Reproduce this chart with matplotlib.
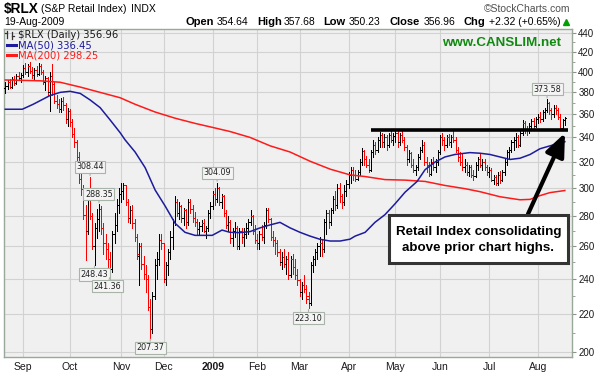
import numpy as np
import pandas as pd
import matplotlib
matplotlib.use("Agg")
import matplotlib.pyplot as plt
from matplotlib.collections import LineCollection
from matplotlib.lines import Line2D
from matplotlib.patches import Rectangle
from matplotlib.ticker import NullFormatter
from matplotlib import font_manager

plt.rcParams['font.family'] = ['Liberation Sans', 'DejaVu Sans']

# ---------------- data ----------------
start_date = "2008-08-20"
end_date = "2009-08-19"
holidays = ['2008-09-01', '2008-11-27', '2008-12-25', '2009-01-01', '2009-01-19',
            '2009-02-16', '2009-04-10', '2009-05-25', '2009-07-03']

opens = [
    384, 386, 390, 385, 393, 389, 396, 394, 397, 404,
    400, 406, 401, 397, 402, 398, 406, 400, 390, 394,
    380, 396, 388, 372, 369, 365, 372, 368, 356, 363,
    353, 343, 336, 324, 307, 299, 281, 270, 298, 280,
    260, 272, 278, 285, 272, 262, 258, 252, 246, 268,
    274, 288, 296, 298, 302, 290, 279, 284, 275, 266,
    254, 260, 249, 243, 240, 224, 212, 230, 248, 252,
    264, 262, 240, 248, 256, 266, 276, 290, 282, 287,
    279, 284, 276, 290, 285, 279, 276, 271, 273, 275,
    270, 272, 282, 287, 296, 292, 300, 290, 294, 282,
    274, 276, 265, 270, 272, 260, 270, 266, 268, 272,
    276, 280, 270, 264, 262, 268, 266, 274, 284, 278,
    266, 264, 262, 256, 250, 253, 249, 252, 242, 252,
    247, 242, 239, 232, 236, 234, 230, 226, 248, 252,
    256, 260, 262, 258, 276, 282, 276, 284, 292, 288,
    300, 294, 290, 298, 303, 310, 314, 310, 307, 312,
    320, 329, 322, 318, 314, 328, 334, 330, 338, 342,
    336, 340, 334, 342, 338, 341, 344, 336, 342, 338,
    332, 322, 327, 318, 314, 316, 324, 330, 334, 320,
    318, 311, 320, 316, 320, 328, 340, 338, 334, 340,
    336, 340, 338, 330, 324, 320, 316, 318, 312, 316,
    310, 309, 318, 322, 318, 320, 316, 312, 314, 306,
    308, 304, 310, 306, 312, 320, 328, 330, 336, 338,
    340, 334, 344, 352, 347, 346, 350, 354, 350, 356,
    358, 356, 362, 364, 370, 364, 360, 366, 364, 358,
    348, 354.64]

highs = [
    390, 392, 393, 395, 396, 398, 400, 399, 407, 409,
    408, 410, 405, 404, 406, 409, 408, 402, 396, 395,
    400, 408, 390, 378, 374, 375, 376, 370, 366, 365,
    356, 348, 338, 328, 314, 302, 288, 300, 308.44, 282,
    275, 285, 288.35, 287, 275, 268, 262, 256, 270, 282,
    292, 300, 304, 304, 302, 292, 287, 288, 278, 268,
    262, 262, 254, 248, 242, 228, 232, 252, 256, 268,
    268, 262, 250, 258, 270, 278, 294, 292, 290, 288,
    286, 285, 292, 292, 288, 283, 278, 276, 277, 278,
    273, 284, 290, 298, 300, 304.09, 301, 296, 295, 284,
    280, 277, 272, 276, 273, 272, 272, 272, 275, 278,
    284, 281, 274, 268, 270, 274, 276, 286, 286, 279,
    270, 266, 264, 258, 256, 258, 254, 256, 254, 255,
    252, 246, 240, 238, 242, 236, 232, 250, 254, 258,
    262, 266, 264, 278, 284, 284, 286, 294, 298, 303,
    304, 296, 302, 306, 312, 316, 316, 314, 314, 322,
    331, 330, 325, 322, 330, 338, 336, 340, 345, 344,
    343, 342, 344, 346, 344, 346, 346, 344, 346, 340,
    334, 330, 328, 322, 318, 326, 332, 338, 336, 324,
    320, 322, 324, 322, 330, 342, 344, 340, 342, 343,
    342, 346, 340, 332, 328, 326, 322, 320, 318, 318,
    314, 320, 324, 326, 322, 322, 318, 316, 315, 310,
    310, 312, 313, 314, 322, 330, 332, 338, 340, 344,
    342, 346, 355, 354, 350, 352, 356, 357, 358, 360,
    362, 364, 366, 373.58, 371, 366, 368, 368, 366, 360,
    356, 357.68]

lows = [
    379, 383, 384, 384, 387, 388, 392, 390, 395, 398,
    396, 399, 394, 393, 396, 397, 398, 388, 382, 378,
    363, 378, 370, 366, 362, 362, 364, 352, 350, 350,
    340, 332, 318, 304, 295, 278, 251, 268, 278, 258,
    248.43, 265, 270, 268, 255, 252, 246, 241.36, 244, 262,
    270, 282, 290, 292, 288, 276, 275, 272, 263, 252,
    236, 246, 240, 232, 222, 207.37, 210, 228, 240, 248,
    258, 238, 236, 242, 252, 258, 274, 280, 278, 276,
    274, 272, 274, 282, 276, 273, 268, 267, 270, 269,
    265, 270, 279, 285, 288, 290, 288, 286, 280, 272,
    270, 262, 260, 266, 258, 258, 262, 260, 265, 268,
    274, 268, 262, 258, 258, 264, 262, 272, 276, 264,
    260, 255, 254, 248, 246, 247, 243, 240, 241, 243,
    240, 236, 230, 228, 232, 226, 223.10, 225, 244, 248,
    252, 254, 254, 256, 268, 272, 274, 282, 284, 286,
    290, 286, 288, 294, 300, 304, 306, 305, 306, 310,
    318, 318, 316, 312, 313, 324, 326, 328, 332, 332,
    332, 330, 332, 336, 334, 336, 332, 334, 336, 330,
    318, 320, 316, 312, 310, 314, 322, 328, 318, 312,
    309, 310, 314, 312, 318, 326, 334, 330, 332, 334,
    332, 336, 328, 321, 318, 314, 312, 310, 309, 308,
    306, 308, 314, 316, 314, 314, 310, 308, 305, 303,
    302, 302, 304, 305, 310, 318, 322, 328, 330, 332,
    332, 333, 342, 344, 342, 344, 346, 348, 349, 352,
    353, 354, 357, 362, 360, 356, 358, 360, 356, 346,
    347, 350.23]

closes = [
    386, 390, 385, 393, 389, 396, 394, 397, 404, 400,
    406, 401, 397, 402, 398, 406, 400, 390, 394, 380,
    396, 388, 372, 369, 365, 372, 368, 356, 363, 353,
    343, 336, 324, 307, 299, 281, 270, 298, 280, 260,
    272, 278, 285, 272, 262, 258, 252, 246, 268, 274,
    288, 296, 298, 302, 290, 279, 284, 275, 266, 255,
    260, 249, 243, 240, 224, 212, 230, 248, 252, 264,
    262, 240, 248, 256, 266, 276, 290, 282, 287, 279,
    284, 276, 290, 285, 279, 276, 271, 273, 275, 270,
    272, 282, 287, 296, 292, 300, 290, 294, 282, 274,
    276, 265, 270, 272, 260, 270, 266, 268, 272, 276,
    280, 270, 264, 262, 268, 266, 274, 284, 278, 266,
    264, 262, 256, 250, 253, 249, 252, 242, 252, 247,
    242, 239, 232, 236, 234, 228, 226, 248, 252, 256,
    260, 262, 258, 276, 282, 276, 284, 292, 288, 300,
    294, 290, 298, 303, 310, 314, 310, 307, 312, 320,
    329, 322, 318, 314, 328, 334, 330, 338, 342, 336,
    340, 334, 342, 338, 341, 344, 336, 342, 338, 332,
    322, 327, 318, 314, 316, 324, 330, 334, 320, 318,
    311, 320, 316, 320, 328, 340, 338, 334, 340, 336,
    340, 338, 330, 324, 320, 316, 318, 312, 316, 310,
    309, 318, 322, 318, 320, 316, 312, 314, 306, 308,
    304, 310, 306, 312, 320, 328, 330, 336, 338, 340,
    334, 344, 352, 347, 346, 350, 354, 350, 356, 358,
    356, 362, 364, 370, 364, 360, 366, 364, 358, 348,
    354.64, 356.96]

# moving averages (trading-day index, value)
ma50_idx = [0, 7.6, 12.5, 20, 24.6, 29, 33.6, 38, 42.5, 47,
            51.5, 53.7, 58.2, 62.7, 67.2, 71.7, 76.2, 80.6, 85.1, 89.6,
            92.8, 97.2, 100.8, 105.3, 109.8, 114.3, 118.8, 123.2, 127.7, 132.2,
            136.7, 141.2, 145.7, 150.2, 154.6, 156.9, 161.4, 165.8, 170.3, 174.8,
            179.3, 184.7, 188.3, 192.8, 197.2, 201.7, 208.4, 212.9, 217.4, 221.9,
            226.4, 230.9, 235.4, 239.8, 244.3, 251]
ma50_val = [364.5, 364.5, 369, 377, 380, 381, 379, 373, 366, 355,
            344, 338, 328, 315.6, 298.6, 287, 275, 269, 267, 267,
            267, 270.5, 269, 268.8, 269.5, 272, 274, 275.7, 272, 269,
            266.5, 264.4, 263.3, 263.3, 264.5, 266.5, 269, 275.7, 281, 288.6,
            297, 305, 314, 320, 324, 326, 327.5, 327, 326, 324,
            322, 323, 326, 330.6, 333, 336.45]
ma200_idx = [0, 15.6, 24.6, 33.6, 42.5, 51.5, 58.2, 67.2, 76.2, 85.1,
             94.1, 100.8, 109.8, 118.8, 127.7, 136.7, 145.7, 154.6, 161.4, 170.3,
             179.3, 188.3, 197.2, 206.2, 212.9, 221.9, 230.9, 235.4, 239.8, 244.3,
             251]
ma200_val = [391.8, 391, 389.6, 385, 380, 375, 369, 362, 356.5, 352,
             348, 345, 340, 333, 328, 320.6, 314.4, 310, 308.7, 306.4,
             306, 305, 302, 299.6, 297.4, 293.7, 291.5, 291.8, 294.5, 296.7,
             298.25]

label_values = [308.44, 288.35, 248.43, 241.36, 207.37, 304.09, 223.10, 373.58]
resistance_level = 346.3
resistance_from = 164
y_ticks = [200, 220, 240, 260, 280, 300, 320, 340, 360, 380, 400, 420, 440]
month_names = ["Sep", "Oct", "Nov", "Dec", "2009", "Feb", "Mar", "Apr", "May", "Jun", "Jul", "Aug"]

header = {"Open": "354.64", "High": "357.68", "Low": "350.23", "Close": "356.96", "Chg": "+2.32 (+0.65%)"}
last_close = "356.96"
ma50_last = "336.45"
ma200_last = "298.25"

# ---------------- layout ----------------
W, H = 599, 376
fig = plt.figure(figsize=(W / 100, H / 100), dpi=100)
fig.patch.set_facecolor('white')

AX_L, AX_R, AX_T, AX_B = 4, 572, 29.3, 356.7
ax = fig.add_axes([AX_L / W, 1 - AX_B / H, (AX_R - AX_L) / W, (AX_B - AX_T) / H])
ax.set_facecolor('#F0F0F0')

n = len(closes)
assert len(opens) == len(highs) == len(lows) == n
dates = pd.bdate_range(start_date, end_date)
dates = dates[~dates.isin(pd.to_datetime(holidays))]
x = np.arange(n)

# OHLC bars
segs, cols = [], []
tick = 0.65
for i in range(n):
    prev = closes[i - 1] if i > 0 else opens[i]
    c = 'black' if closes[i] >= prev else '#FF0000'
    segs.append([(x[i], lows[i]), (x[i], highs[i])])
    segs.append([(x[i] - tick, opens[i]), (x[i], opens[i])])
    segs.append([(x[i], closes[i]), (x[i] + tick, closes[i])])
    cols += [c, c, c]
lc = LineCollection(segs, colors=cols, linewidths=0.72, antialiaseds=False, zorder=3)
ax.add_collection(lc)

ax.plot(ma200_idx, ma200_val, color='#FF1A1A', lw=1.1, zorder=4)
ax.plot(ma50_idx, ma50_val, color='#1C1C9C', lw=1.1, zorder=4)

ax.plot([resistance_from, n + 0.5], [resistance_level, resistance_level],
        color='black', lw=2.6, solid_capstyle='butt', zorder=5)

ax.set_yscale('log')
ax.set_ylim(197.9, 444.0)
ax.set_xlim(-0.6, 254.2)

# y axis on the right
ax.yaxis.tick_right()
ax.set_yticks(y_ticks)
ax.set_yticklabels([str(v) for v in y_ticks])
ax.set_yticks([v for v in range(200, 441, 10) if v % 20], minor=True)
ax.yaxis.set_minor_formatter(NullFormatter())
ax.tick_params(axis='y', which='major', length=3, width=0.8, color='#8A948A',
               labelsize=7, pad=1.5, labelcolor='#1A1A1A')
ax.tick_params(axis='y', which='minor', length=2, width=0.6, color='#8A948A')

# x axis: first trading day of each month
month_pos = []
for k in range(1, n):
    if dates[k].month != dates[k - 1].month:
        month_pos.append(k)
ax.set_xticks(month_pos)
ax.set_xticklabels(month_names)
for lab in ax.get_xticklabels():
    if lab.get_text() == "2009":
        lab.set_fontweight('bold')
ax.tick_params(axis='x', length=0, pad=4, labelsize=7.5, labelcolor='#1A1A1A')

ax.grid(True, which='major', color='#D2D2D2', lw=0.8)
ax.set_axisbelow(True)
for sp in ax.spines.values():
    sp.set_color('#9AA89A')
    sp.set_linewidth(1.0)

# high / low value labels
for v in label_values:
    hi = np.where(np.isclose(highs, v))[0]
    if len(hi):
        i, dy = hi[0], 10
    else:
        i, dy = np.where(np.isclose(lows, v))[0][0], -10
    dx = -3 if v == 241.36 else 0
    ax.annotate(f"{v:.2f}", xy=(i, v), xytext=(dx, dy), textcoords='offset pixels',
                ha='center', va='center', fontsize=5.8, family='DejaVu Sans', color='#222222',
                bbox=dict(boxstyle='square,pad=0.2', fc='#F4F4F4', ec='#A8B4A8', lw=0.8),
                arrowprops=dict(arrowstyle='-', color='#A8B4A8', lw=0.8, shrinkA=0, shrinkB=1),
                zorder=6)


def fx(px):
    return px / W


def fy(py):
    return 1 - py / H


# header
fig.text(fx(4), fy(12.5), "$RLX", fontsize=9.8, fontweight='bold', va='baseline')
fig.text(fx(41), fy(12.5), "(S&P Retail Index)", fontsize=7.5, va='baseline')
fig.text(fx(131), fy(12.5), "INDX", fontsize=7.5, va='baseline')
fig.text(fx(4), fy(25), "19-Aug-2009", fontsize=7.5, va='baseline')
fig.text(fx(570), fy(11.5), "\u00a9StockCharts.com", fontsize=7.5, va='baseline', ha='right', color='#505050')
items = [("Open", 185, True), (header["Open"], 217, False), ("High", 257, True), (header["High"], 284, False),
         ("Low", 323, True), (header["Low"], 349, False), ("Close", 389, True), (header["Close"], 424, False),
         ("Chg", 463, True), (header["Chg"], 489, False)]
for s, px, b in items:
    fig.text(fx(px), fy(25), s, fontsize=8 if b else 7.5, fontweight='bold' if b else 'normal', va='baseline')
fig.add_artist(Line2D([fx(566)], [fy(21.5)], marker='^', ms=4.5, color='#00A000', transform=fig.transFigure))

# legend inside the plot
for xs, ys in [([7, 7], [31, 37.5]), ([5, 7], [33, 33]), ([12, 12], [32, 38.5]), ([12, 14], [36, 36])]:
    fig.add_artist(Line2D([fx(a) for a in xs], [fy(b) for b in ys], color='#333333', lw=0.9,
                          transform=fig.transFigure))
fig.text(fx(18.3), fy(37.5), f"$RLX (Daily) {last_close}", fontsize=7.2, family='DejaVu Sans',
         va='baseline', color='#1A1A1A')
fig.add_artist(Line2D([fx(7), fx(16)], [fy(44.5), fy(44.5)], color='#1C1C9C', lw=2.2, transform=fig.transFigure))
fig.text(fx(18.3), fy(48), f"MA(50) {ma50_last}", fontsize=7.2, family='DejaVu Sans',
         va='baseline', color='#1C1C9C')
fig.add_artist(Line2D([fx(7), fx(16)], [fy(55), fy(55)], color='#FF1A1A', lw=2.2, transform=fig.transFigure))
fig.text(fx(18.3), fy(58.5), f"MA(200) {ma200_last}", fontsize=7.2, family='DejaVu Sans',
         va='baseline', color='#FF1A1A')

fig.text(fx(502), fy(46), "www.CANSLIM.net", fontsize=9.6, fontweight='bold', color='#128A12',
         va='baseline', ha='center')

# annotation box and arrow
names = {f.name for f in font_manager.fontManager.ttflist}
if 'Liberation Sans Narrow' in names:
    box_font, box_size = 'Liberation Sans Narrow', 11.5
else:
    box_font, box_size = 'Liberation Sans', 9.6
fig.add_artist(Rectangle((fx(389), fy(263)), (568 - 389) / W, 48 / H, transform=fig.transFigure,
                         fc='white', ec='#333333', lw=2.2, zorder=8))
fig.text(fx(478.5), fy(232), "Retail Index consolidating", family=box_font, fontsize=box_size,
         fontweight='bold', ha='center', va='center', zorder=9)
fig.text(fx(478.5), fy(248), "above prior chart highs.", family=box_font, fontsize=box_size,
         fontweight='bold', ha='center', va='center', zorder=9)
ax.annotate('', xy=(565, H - 133), xycoords='figure pixels', xytext=(528, H - 214),
            textcoords='figure pixels',
            arrowprops=dict(arrowstyle='-|>,head_length=1.0,head_width=0.42', mutation_scale=14,
                            lw=3.0, color='black', shrinkA=0, shrinkB=0), zorder=7)

fig.savefig('out.png', dpi=100, facecolor='white')
